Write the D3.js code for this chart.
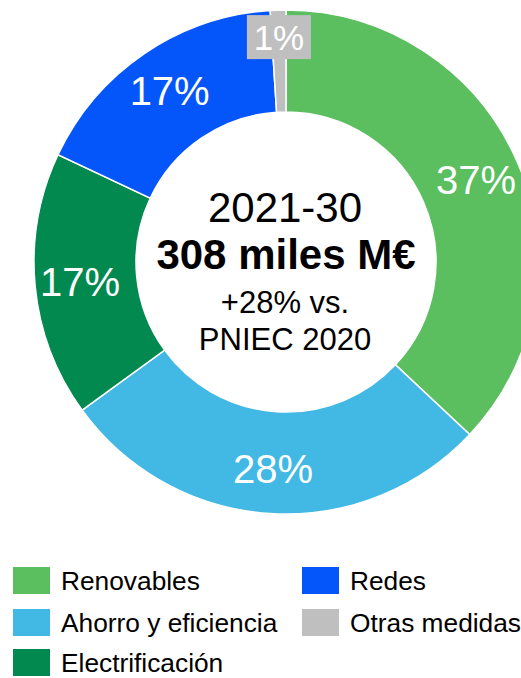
<!DOCTYPE html>
<html>
<head>
<meta charset="utf-8">
<script src="https://cdn.jsdelivr.net/npm/d3@7"></script>
<style>
  html, body { margin: 0; padding: 0; background: #fff; }
  svg { display: block; font-family: "Liberation Sans", Arial, sans-serif; }
</style>
</head>
<body>
<svg id="chart" width="521" height="678"></svg>
<script>
const categories = ["Renovables", "Ahorro y eficiencia", "Electrificación", "Redes", "Otras medidas"];
const values = [37, 28, 17, 17, 1];
const labels = ["37%", "28%", "17%", "17%", "1%"];
const colors = ["#5BBE5F", "#42B8E5", "#02894F", "#0556FA", "#BFBFBF"];
const centerLines = ["2021-30", "308 miles M€", "+28% vs.", "PNIEC 2020"];

const svg = d3.select("#chart");
const cx = 286, cy = 262, outerR = 252, innerR = 150;

const data = categories.map((c, i) => ({ name: c, value: values[i], label: labels[i], color: colors[i] }));
const pie = d3.pie().sort(null).value(d => d.value);
const arcs = pie(data);
const arc = d3.arc().innerRadius(innerR).outerRadius(outerR);
const labelArc = d3.arc().innerRadius(160).outerRadius(254);
const smallLabelArc = d3.arc().innerRadius(225).outerRadius(225);

const g = svg.append("g").attr("transform", `translate(${cx},${cy})`);

g.selectAll("path.slice")
  .data(arcs)
  .enter().append("path")
  .attr("class", "slice")
  .attr("d", arc)
  .attr("fill", d => d.data.color)
  .attr("stroke", "#fff")
  .attr("stroke-width", 1.5);

arcs.forEach(d => {
  const small = d.data.value < 3;
  const [x, y] = small ? smallLabelArc.centroid(d) : labelArc.centroid(d);
  if (small) {
    g.append("rect")
      .attr("x", x - 32).attr("y", y - 22)
      .attr("width", 64).attr("height", 44)
      .attr("fill", d.data.color);
  }
  g.append("text")
    .attr("x", x).attr("y", y)
    .attr("dy", "0.36em")
    .attr("text-anchor", "middle")
    .attr("fill", "#fff")
    .attr("font-size", small ? 35 : 40)
    .text(d.data.label);
});

// center text
const center = svg.append("g").attr("text-anchor", "middle").attr("fill", "#000");
center.append("text").attr("x", cx - 1).attr("y", 222).attr("font-size", 42).text(centerLines[0]);
center.append("text").attr("x", cx).attr("y", 269).attr("font-size", 42).attr("font-weight", "bold").text(centerLines[1]);
center.append("text").attr("x", cx - 1).attr("y", 313).attr("font-size", 31).text(centerLines[2]);
center.append("text").attr("x", cx - 1).attr("y", 350).attr("font-size", 31).text(centerLines[3]);

// legend
const legend = svg.append("g");
const colX = [13, 302];
const rowY = [567, 609, 649];
data.forEach((d, i) => {
  const col = Math.floor(i / 3), row = i % 3;
  const lg = legend.append("g").attr("transform", `translate(${colX[col]},${rowY[row]})`);
  lg.append("rect").attr("width", 37).attr("height", 27).attr("fill", d.color);
  lg.append("text").attr("x", 48).attr("y", 22.5).attr("font-size", 26.3).attr("fill", "#000").text(d.name);
});
</script>
</body>
</html>
